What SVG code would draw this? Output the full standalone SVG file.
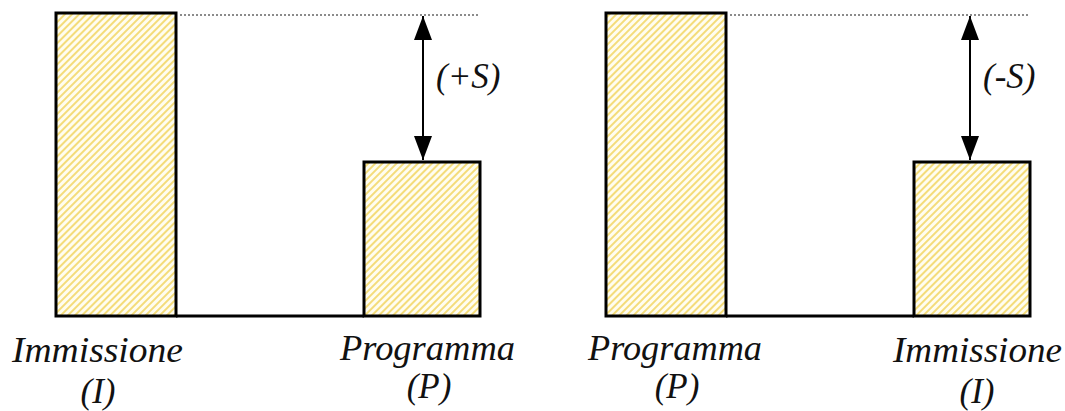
<svg xmlns="http://www.w3.org/2000/svg" width="1065" height="411" viewBox="0 0 1065 411">
<style>
.bar{fill:url(#hatch);stroke:#000;stroke-width:3}
.base{stroke:#000;stroke-width:3;fill:none}
.dot{stroke:#666;stroke-width:1.3;stroke-dasharray:2 2;fill:none}
.arr{stroke:#000;stroke-width:2;fill:none}
text{font-family:'Liberation Serif','DejaVu Serif',serif;font-style:italic;font-size:35px;fill:#111}
</style>
<defs>
<pattern id="hatch" width="5" height="5" patternUnits="userSpaceOnUse" patternTransform="rotate(45)">
<rect width="5" height="5" fill="#fffdf0"/>
<rect width="2" height="5" fill="#f4dc7a"/>
</pattern>
<marker id="ah" viewBox="0 0 24 18" refX="24" refY="9" markerWidth="24" markerHeight="18" markerUnits="userSpaceOnUse" orient="auto-start-reverse">
<path d="M0,0 L24,9 L0,18 Z" fill="#000"/>
</marker>
</defs>
<g id="left-I">
<rect class="bar" x="56" y="13" width="120" height="303"/>
<text x="12" y="362" textLength="171" lengthAdjust="spacingAndGlyphs">Immissione</text>
<text x="98" y="403" text-anchor="middle">(I)</text>
</g>
<g id="left-P">
<rect class="bar" x="364" y="162" width="116" height="154"/>
<text x="340" y="360" textLength="175" lengthAdjust="spacingAndGlyphs">Programma</text>
<text x="429" y="398" text-anchor="middle">(P)</text>
</g>
<g id="right-P">
<rect class="bar" x="606" y="13" width="120" height="303"/>
<text x="588" y="360" textLength="174" lengthAdjust="spacingAndGlyphs">Programma</text>
<text x="677" y="398" text-anchor="middle">(P)</text>
</g>
<g id="right-I">
<rect class="bar" x="914" y="162" width="116" height="154"/>
<text x="893" y="362" textLength="169" lengthAdjust="spacingAndGlyphs">Immissione</text>
<text x="977" y="403" text-anchor="middle">(I)</text>
</g>
<g id="connectors">
<line class="base" x1="176" y1="316" x2="364" y2="316"/>
<line class="base" x1="726" y1="316" x2="914" y2="316"/>
<line class="dot" x1="180" y1="15" x2="480" y2="15"/>
<line class="dot" x1="730" y1="15" x2="1030" y2="15"/>
<line class="arr" x1="423" y1="16" x2="423" y2="160" marker-start="url(#ah)" marker-end="url(#ah)"/>
<line class="arr" x1="970" y1="16" x2="970" y2="160" marker-start="url(#ah)" marker-end="url(#ah)"/>
<text x="436" y="88">(+S)</text>
<text x="983" y="88">(-S)</text>
</g>
</svg>
